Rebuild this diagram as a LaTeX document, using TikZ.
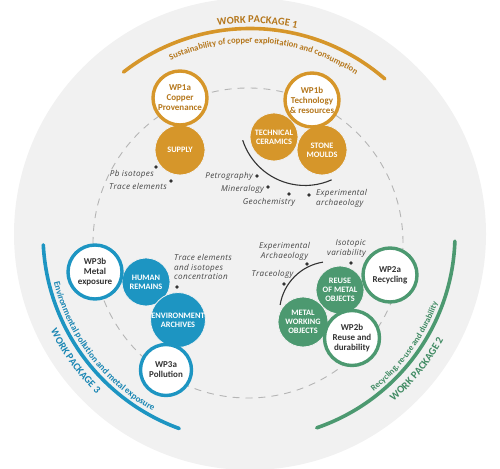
\documentclass[tikz,border=0pt]{standalone}
\usepackage{fontspec}
\setmainfont{Carlito}
\newfontfamily\labfont{Open Sans}[LetterSpace=4]
\usetikzlibrary{decorations.text}
\definecolor{disc}{HTML}{F1F1F1}
\definecolor{orA}{HTML}{D6962A}
\definecolor{orT}{HTML}{B5771C}
\definecolor{blA}{HTML}{1D95C2}
\definecolor{blT}{HTML}{1A86B3}
\definecolor{grA}{HTML}{4C9970}
\definecolor{grT}{HTML}{3F8A62}
\definecolor{dk}{HTML}{333333}
\definecolor{labc}{HTML}{454545}
\definecolor{dashc}{HTML}{B5B5B5}
\begin{document}
\begin{tikzpicture}[x=1pt,y=1pt,
 wpring/.style={circle, draw=#1, line width=3.4pt, fill=white, inner sep=0pt, align=center, font=\fontsize{9}{10}\selectfont\bfseries, minimum size=54pt},
 fillc/.style={circle, fill=#1, draw=disc, line width=0.8pt, inner sep=0pt, align=center, text=white, font=\fontsize{8.3}{8.8}\selectfont\bfseries, minimum size=48pt},
 dotn/.style={circle, fill=dk, inner sep=0pt, minimum size=3.6pt},
 lab/.style={inner sep=0pt, text=labc, align=left, font=\labfont\itshape\fontsize{8.1}{9.3}\selectfont},
 wparc/.style={draw=#1, line width=3.6pt, line cap=round},
 leadarc/.style={draw=dk, line width=1.1pt},
]
\useasboundingbox (0,0) rectangle (500,468);
\fill[disc] (250,234) circle[radius=236];
\draw[dashc, line width=0.9pt, dash pattern=on 7pt off 6pt] (248,225) circle[radius=155];

% work package arcs
\draw[wparc=orA] (250,234) ++(128:205.5) arc[start angle=128, end angle=49, radius=205.5];
\draw[wparc=blA] (250,234) ++(183:207) arc[start angle=183, end angle=250, radius=207];
\draw[wparc=grA] (250,234) ++(289:205) arc[start angle=289, end angle=358, radius=205];

% arc texts
\path[decorate, decoration={text along path, text align=center, text={|\fontsize{10.5}{12}\selectfont\bfseries\color{orT}|WORK PACKAGE 1}}] (250,234) ++(138:211) arc[start angle=138, end angle=38, radius=211];
\path[decorate, decoration={text along path, text align=center, text={|\fontsize{8.6}{10}\selectfont\bfseries\color{orT}|Sustainability of copper exploitation and consumption}}] (250,234) ++(135.5:191) arc[start angle=135.5, end angle=35.5, radius=191];
\path[decorate, decoration={text along path, text align=center, text={|\fontsize{9}{10}\selectfont\bfseries\color{blT}|Environmental pollution and metal exposure}}] (250,234) ++(167.5:202) arc[start angle=167.5, end angle=267.5, radius=202];
\path[decorate, decoration={text along path, text align=center, text={|\fontsize{10.3}{12}\selectfont\bfseries\color{blT}|WORK PACKAGE 3}}] (250,234) ++(166:221.5) arc[start angle=166, end angle=266, radius=221.5];
\path[decorate, decoration={text along path, text align=center, text={|\fontsize{8.5}{10}\selectfont\bfseries\color{grT}|Recycling, re-use and durability}}] (250,234) ++(-86:200) arc[start angle=-86, end angle=14, radius=200];
\path[decorate, decoration={text along path, text align=center, text={|\fontsize{10.5}{12}\selectfont\bfseries\color{grT}|WORK PACKAGE 2}}] (250,234) ++(-89:220.5) arc[start angle=-89, end angle=11, radius=220.5];

% lead arcs
\draw[leadarc] (305,348) ++(198:65.5) arc[start angle=198, end angle=294, radius=65.5];
\draw[leadarc] (331,155) ++(99:51.5) arc[start angle=99, end angle=171, radius=51.5];

% filled circles
\node[fillc=orA, minimum size=50pt] (supply) at (180,318) {SUPPLY};
\node[fillc=orA] (tech) at (274,331) {TECHNICAL\\CERAMICS};
\node[fillc=orA, minimum size=50pt] (stone) at (322,318) {STONE\\MOULDS};
\node[fillc=blA] (human) at (146,186) {HUMAN\\REMAINS};
\node[fillc=blA, minimum size=47pt] (env) at (178,148) {ENVIRONMENT\\ARCHIVES};
\node[fillc=grA] (reuse) at (340,178) {REUSE\\OF METAL\\OBJECTS};
\node[fillc=grA, minimum size=50pt] (metalw) at (303,146) {METAL\\WORKING\\OBJECTS};

% white rings
\node[wpring=orA, text=orT] (wp1a) at (180,370) {WP1a\\Copper\\Provenance};
\node[wpring=orA, text=orT] (wp1b) at (312,368) {WP1b\\Technology\\\& resources};
\node[wpring=blA, text=dk] (wp3b) at (95,196) {WP3b\\Metal\\exposure};
\node[wpring=blA, text=dk, minimum size=51pt] (wp3a) at (166,98) {WP3a\\Pollution};
\node[wpring=grA, text=dk] (wp2a) at (390,193) {WP2a\\Recycling};
\node[wpring=grA, text=dk, minimum size=55pt] (wp2b) at (352,130) {WP2b\\Reuse and\\durability};

% dots and labels
\node[dotn] (d1) at (156,301) {};
\node[lab, anchor=east] (l1) at (154,294) {Pb isotopes};
\node[dotn] (d2) at (171,287) {};
\node[lab, anchor=east] (l2) at (167,282) {Trace elements};
\node[dotn] (d3) at (257,292) {};
\node[lab, anchor=east] (l3) at (253,292) {Petrography};
\node[dotn] (d4) at (268,281) {};
\node[lab, anchor=east] (l4) at (264,279) {Mineralogy};
\node[dotn] (d5) at (289,274) {};
\node[lab] (l5) at (269,266) {Geochemistry};
\node[dotn] (d6) at (309,273) {};
\node[lab, anchor=west] (l6) at (316,269.5) {Experimental\\archaeology};
\node[dotn] (d7) at (177,181) {};
\node[lab, anchor=west] (l7) at (174,201) {Trace elements\\and isotopes\\concentration};
\node[dotn] (d8) at (307,204) {};
\node[lab, align=center] (l8) at (284.5,216.5) {Experimental\\Archaeology};
\node[dotn] (d9) at (351,205) {};
\node[lab, anchor=east, align=right] (l9) at (366,219.5) {Isotopic\\variability};
\node[dotn] (d10) at (284,184) {};
\node[lab] (l10) at (272.5,194) {Traceology};
\end{tikzpicture}
\end{document}
